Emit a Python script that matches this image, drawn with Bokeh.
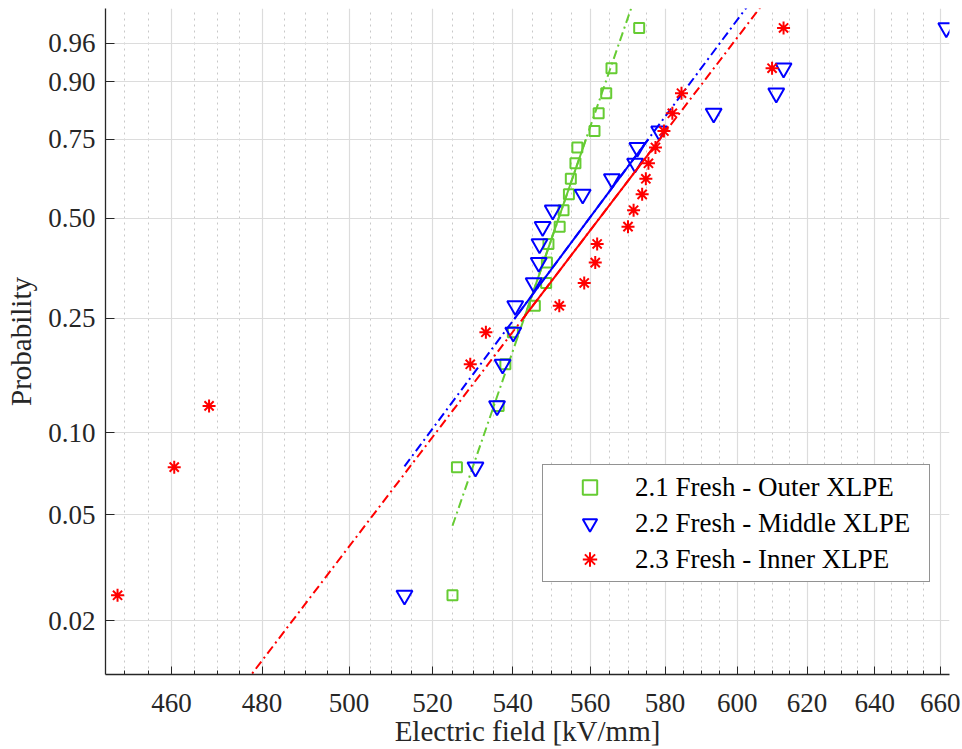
import numpy as np
from bokeh.plotting import figure
from bokeh.models import (FixedTicker, CustomJSTickFormatter, Range1d, Legend, LegendItem)
from bokeh.embed import file_html
from bokeh.resources import INLINE

# ---- data ----
prob = [0.025, 0.075, 0.125, 0.175, 0.225, 0.275, 0.325, 0.375, 0.425, 0.475,
        0.525, 0.575, 0.625, 0.675, 0.725, 0.775, 0.825, 0.875, 0.925, 0.975]
outer = [524.9, 526.0, 536.4, 538.1, 540.0, 545.6, 548.5, 548.7, 549.1, 552.0,
         553.0, 554.4, 554.9, 556.1, 556.6, 561.1, 562.2, 564.2, 565.6, 573.0]
middle = [513.2, 530.6, 536.0, 537.4, 540.1, 540.6, 545.3, 546.6, 546.8, 547.6,
          550.2, 558.0, 565.7, 571.9, 572.5, 578.4, 593.4, 611.1, 613.2, 661.9]
inner = [448.5, 460.6, 468.2, 529.3, 533.2, 551.9, 558.4, 561.3, 561.8, 570.0,
         571.5, 573.8, 574.8, 575.5, 577.4, 579.7, 582.0, 584.5, 609.9, 613.2]
series_names = ["2.1 Fresh - Outer XLPE", "2.2 Fresh - Middle XLPE", "2.3 Fresh - Inner XLPE"]
series_data = [outer, middle, inner]
colors = ["#66CC33", "#0000FF", "#FF0000"]
markers = ["square", "inverted_triangle", "asterisk"]
marker_sizes = [10, 16, 13]

x_ticks = [460, 480, 500, 520, 540, 560, 580, 600, 620, 640, 660]
x_minor = [450, 455, 465, 470, 475, 485, 490, 495, 505, 510, 515, 525, 530, 535,
           545, 550, 555, 565, 570, 575, 585, 590, 595, 605, 610, 615, 625, 630,
           635, 645, 650, 655, 665]
y_tick_probs = [0.02, 0.05, 0.10, 0.25, 0.50, 0.75, 0.90, 0.96]


def weib(p):
    return np.log(-np.log(1.0 - np.asarray(p, dtype=float)))


def prctile(v, pct):
    v = np.sort(np.asarray(v, dtype=float))
    n = len(v)
    pos = n * pct / 100.0 + 0.5  # 1-based position (MATLAB style)
    lo = int(np.floor(pos))
    frac = pos - lo
    lo = min(max(lo, 1), n)
    hi = min(lo + 1, n)
    return v[lo - 1] + frac * (v[hi - 1] - v[lo - 1])


FONT = "Liberation Serif"
TXT = "#262626"

p = figure(width=962, height=749, x_axis_type="log",
           x_range=Range1d(445.97, 662.9), y_range=Range1d(-4.372, 1.476),
           output_backend="svg", toolbar_location=None,
           min_border_left=105, min_border_right=13, min_border_top=8, min_border_bottom=75)
p.outline_line_color = None
p.background_fill_color = "white"
p.border_fill_color = "white"

# axes
p.xaxis.ticker = FixedTicker(ticks=x_ticks, minor_ticks=x_minor)
p.xaxis.formatter = CustomJSTickFormatter(code="return tick.toFixed(0);")
p.yaxis.ticker = FixedTicker(ticks=[float(w) for w in weib(y_tick_probs)], minor_ticks=[])
p.yaxis.formatter = CustomJSTickFormatter(
    code="const q = 1 - Math.exp(-Math.exp(tick)); return q.toFixed(2);")

for ax in (p.xaxis[0], p.yaxis[0]):
    ax.axis_line_color = TXT
    ax.axis_line_width = 1.3
    ax.major_tick_line_color = TXT
    ax.minor_tick_line_color = TXT
    ax.major_tick_out = 0
    ax.minor_tick_out = 0
    ax.major_label_text_font = FONT
    ax.major_label_text_font_size = "27px"
    ax.major_label_text_color = TXT
    ax.axis_label_text_font = FONT
    ax.axis_label_text_font_size = "29px"
    ax.axis_label_text_font_style = "normal"
    ax.axis_label_text_color = TXT

p.xaxis.major_tick_in = 8
p.xaxis.minor_tick_in = 4
p.yaxis.major_tick_in = 9
p.xaxis.major_label_standoff = 19
p.yaxis.major_label_standoff = 10
p.xaxis.axis_label = "Electric field [kV/mm]"
p.yaxis.axis_label = "Probability"
p.xaxis.axis_label_standoff = 0
p.yaxis.axis_label_standoff = 8

# grids
p.xgrid.grid_line_color = "#dcdcdc"
p.xgrid.grid_line_width = 1.2
p.xgrid.minor_grid_line_color = "#c8c8c8"
p.xgrid.minor_grid_line_dash = "2 4"
p.xgrid.minor_grid_line_width = 1
p.ygrid.grid_line_color = "#dcdcdc"
p.ygrid.grid_line_width = 1.2

W = weib(prob)
legend_items = []
for name, data, col, mk, sz in zip(series_names, series_data, colors, markers, marker_sizes):
    r = p.scatter(x=data, y=W, marker=mk, size=sz, fill_color=None,
                  line_color=col, line_width=2)
    legend_items.append(LegendItem(label=name, renderers=[r]))

    lx = np.log(np.asarray(data, dtype=float))
    q1x, q3x = prctile(lx, 25), prctile(lx, 75)
    q1y, q3y = prctile(W, 25), prctile(W, 75)
    slope = (q3y - q1y) / (q3x - q1x)
    cx, cy = (q1x + q3x) / 2, (q1y + q3y) / 2
    minx, maxx = lx.min(), lx.max()
    miny, maxy = cy + slope * (minx - cx), cy + slope * (maxx - cx)
    p.line(x=[float(np.exp(minx)), float(np.exp(maxx))], y=[float(miny), float(maxy)],
           line_color=col, line_width=2, line_dash="9 4 2 4")
    p.line(x=[float(np.exp(q1x)), float(np.exp(q3x))], y=[float(q1y), float(q3y)],
           line_color=col, line_width=2)

legend = Legend(items=legend_items, location=(437, 92), margin=0,
                padding=4, spacing=0, glyph_width=85, glyph_height=36,
                label_height=36, label_width=290, label_standoff=3,
                border_line_color=TXT, border_line_width=1.2,
                background_fill_color="white", background_fill_alpha=1.0,
                label_text_font=FONT, label_text_font_size="27px",
                label_text_color="#000000")
p.add_layout(legend)

open("out.html", "w").write(file_html(p, INLINE))
